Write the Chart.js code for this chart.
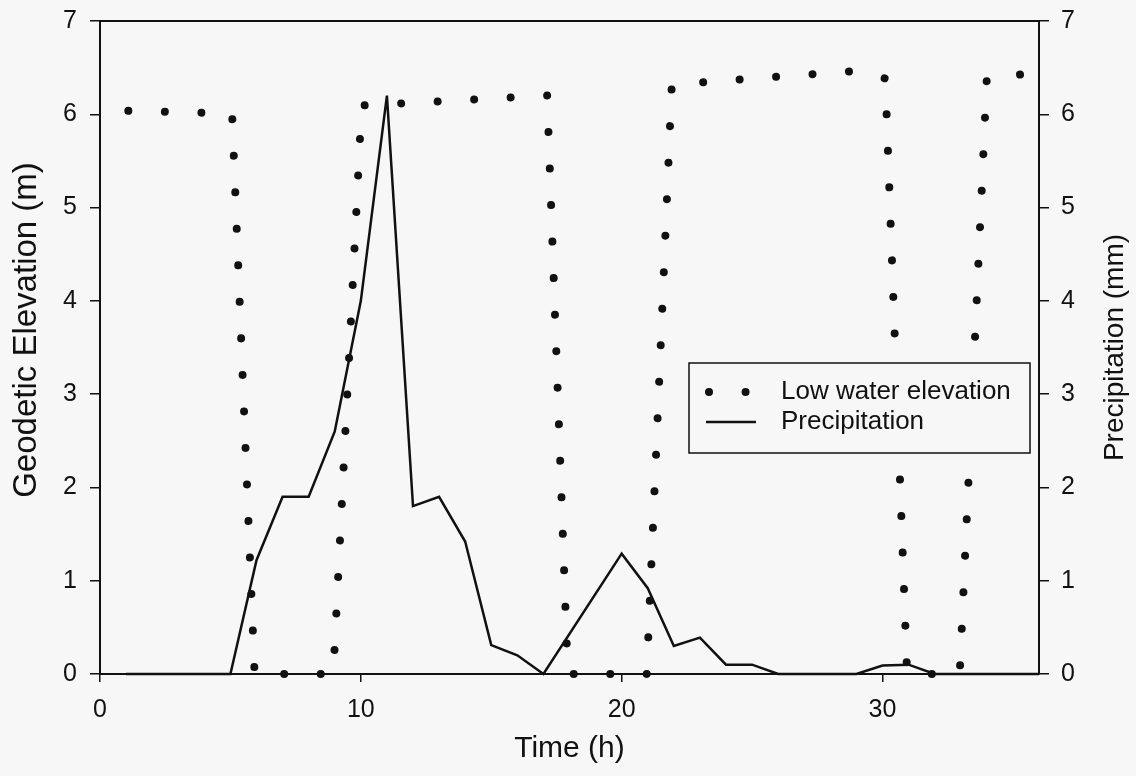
<!DOCTYPE html>
<html>
<head>
<meta charset="utf-8">
<script src="https://cdn.jsdelivr.net/npm/chart.js@4.4.0/dist/chart.umd.min.js"></script>
<style>
html, body { margin: 0; padding: 0; background: #f7f7f7; }
#wrap { width: 1136px; height: 776px; }
</style>
</head>
<body>
<div id="wrap"><canvas id="tideChart" width="1136" height="776"></canvas></div>
<script>
// Low water elevation: corners of the dotted line
const lowTime  = [1.085, 5.065, 5.927, 8.945, 10.030, 17.145, 17.935, 20.960, 21.922, 28.946, 30.108, 30.944, 32.960, 33.999, 35.502];
const lowLevel = [6.037, 6.009, 0.000, 0.000, 6.094, 6.201, 0.000, 0.000, 6.319, 6.464, 6.384, 0.000, 0.000, 6.389, 6.432];

// Precipitation (mm)
const rainTime = [1, 5, 6, 7, 8, 9, 10, 11, 12, 13, 14, 15, 16, 17, 20, 21, 22, 23, 24, 25, 26, 29, 30, 31, 32, 36];
const rainMm   = [0, 0, 1.22, 1.9, 1.9, 2.6, 4.0, 6.2, 1.8, 1.9, 1.42, 0.31, 0.2, 0, 1.29, 0.92, 0.30, 0.39, 0.10, 0.10, 0, 0, 0.09, 0.10, 0, 0];

const xTicks = [0, 10, 20, 30];
const yTicks = [0, 1, 2, 3, 4, 5, 6, 7];

const ink = "#111";
const paper = "#f7f7f7";
const fam = "'Liberation Sans', Arial, sans-serif";
const dotGap = [0.01, 36.54];

// rotated text, reading bottom-to-top
function sideTitle(ctx, text, x, y, size) {
    ctx.save();
    ctx.translate(x, y);
    ctx.rotate(-Math.PI / 2);
    ctx.fillStyle = ink; ctx.font = size + "px " + fam;
    ctx.textAlign = "center"; ctx.textBaseline = "middle";
    ctx.fillText(text, 0, 0);
    ctx.restore();
}

// legend box + both side titles
const extras = {
    id: "extras",
    afterDatasetsDraw(chart) {
        const ctx = chart.ctx, a = chart.chartArea;
        const lx = a.left + 589, ly = a.top + 342, lw = 341, lh = 90;
        ctx.save();
        ctx.fillStyle = paper;
        ctx.fillRect(lx, ly, lw, lh);
        ctx.strokeStyle = ink; ctx.lineWidth = 1.5;
        ctx.strokeRect(lx, ly, lw, lh);
        // dotted sample
        ctx.lineWidth = 8; ctx.lineCap = "round"; ctx.setLineDash(dotGap);
        ctx.beginPath(); ctx.moveTo(lx + 20, ly + 29); ctx.lineTo(lx + 58, ly + 29); ctx.stroke();
        // solid sample
        ctx.setLineDash([]); ctx.lineWidth = 2.5; ctx.lineCap = "butt";
        ctx.beginPath(); ctx.moveTo(lx + 17, ly + 59); ctx.lineTo(lx + 67, ly + 59); ctx.stroke();
        ctx.fillStyle = ink; ctx.font = "26px " + fam; ctx.textBaseline = "middle";
        ctx.fillText("Low water elevation", lx + 92, ly + 29);
        ctx.fillText("Precipitation", lx + 92, ly + 59);
        ctx.restore();
    },
    afterDraw(chart) {
        const a = chart.chartArea;
        sideTitle(chart.ctx, "Geodetic Elevation (m)", 27, a.top + 309, 33);
        sideTitle(chart.ctx, "Precipitation (mm)", 1115, (a.top + a.bottom) / 2, 28);
    }
};

const tickFont = { family: fam, size: 25 };
const yAxis = (pos, width, pad) => ({
    type: "linear", position: pos, min: 0, max: 7,
    afterBuildTicks: s => { s.ticks = yTicks.map(v => ({ value: v })); },
    // fixed width; drop the label padding so the plot top stays at 21px
    afterFit: s => { s.width = width; s.paddingTop = 0; s.paddingBottom = 0; },
    grid: { drawOnChartArea: false, tickLength: 10, color: ink, lineWidth: 1.5 },
    border: { color: ink, width: 2 },
    ticks: { color: ink, font: tickFont, padding: pad }
});

new Chart(document.getElementById("tideChart").getContext("2d"), {
    type: "line",
    data: {
        datasets: [
            {
                label: "Low water elevation",
                data: lowTime.map((t, i) => ({ x: t, y: lowLevel[i] })),
                borderColor: ink, borderWidth: 8, borderDash: dotGap,
                borderCapStyle: "round", borderJoinStyle: "round",
                pointRadius: 0, tension: 0, clip: 10, yAxisID: "y"
            },
            {
                label: "Precipitation",
                data: rainTime.map((t, i) => ({ x: t, y: rainMm[i] })),
                borderColor: ink, borderWidth: 2.5, borderJoinStyle: "miter",
                pointRadius: 0, tension: 0, clip: 10, yAxisID: "y2"
            }
        ]
    },
    options: {
        responsive: false, animation: false,
        layout: { padding: { top: 21, left: 0, right: 0, bottom: 0 } },
        plugins: { legend: { display: false }, tooltip: { enabled: false } },
        scales: {
            x: {
                type: "linear", position: "bottom", min: 0, max: 36,
                afterBuildTicks: s => { s.ticks = xTicks.map(v => ({ value: v })); },
                afterFit: s => { s.height = 102; },
                grid: { drawOnChartArea: false, tickLength: 8, color: ink, lineWidth: 1.5 },
                border: { color: ink, width: 2 },
                ticks: { color: ink, font: tickFont, padding: 13, maxRotation: 0 },
                title: { display: true, text: "Time (h)", color: ink, font: { family: fam, size: 30 }, padding: { bottom: 9 } }
            },
            xTop: {
                type: "linear", position: "top", min: 0, max: 36,
                afterFit: s => { s.height = 0; },
                grid: { display: false }, ticks: { display: false },
                border: { display: true, color: ink, width: 2 }
            },
            y: yAxis("left", 100, 13),
            y2: yAxis("right", 97, 12)
        }
    },
    plugins: [extras]
});
</script>
</body>
</html>
